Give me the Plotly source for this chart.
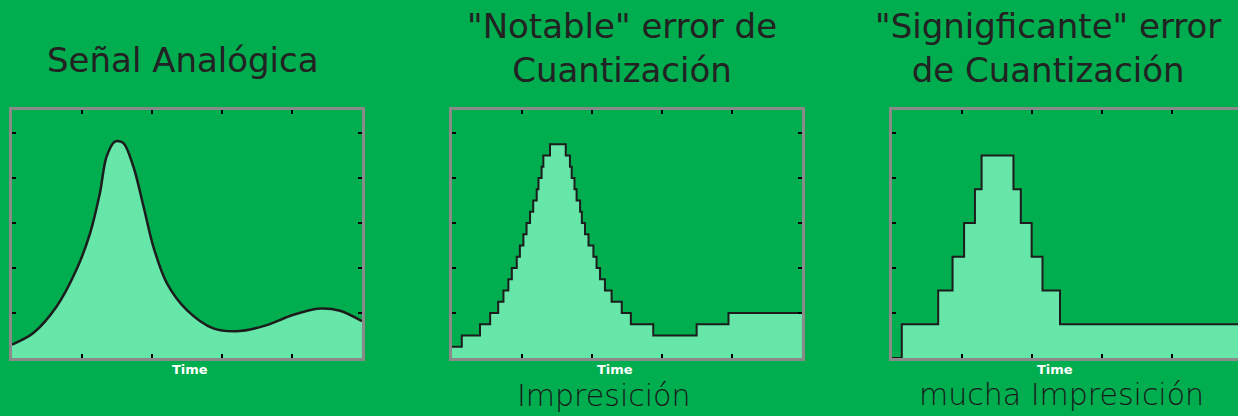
import plotly.graph_objects as go

# ---------------- data ----------------
analog_x = [0, 0.6, 1.27, 1.84, 2.23, 2.51, 2.7, 2.94, 3.18, 3.47, 3.76, 4.04, 4.42, 4.99,
            5.75, 6.51, 7.28, 8.04, 8.8, 9.37, 10]
analog_y = [0.3, 0.55, 1.14, 1.96, 2.77, 3.66, 4.47, 4.81, 4.78, 4.25, 3.36, 2.47, 1.67, 1.07,
            0.66, 0.6, 0.73, 0.96, 1.10, 1.05, 0.82]

fine_edges = [0, 0.28, 0.8, 1.09, 1.32, 1.47, 1.61, 1.71, 1.85, 1.94, 2.04, 2.13, 2.23, 2.32,
              2.42, 2.47, 2.56, 2.61, 2.80, 3.25, 3.37, 3.42, 3.50, 3.56, 3.66, 3.71, 3.80,
              3.90, 4.04, 4.13, 4.23, 4.37, 4.56, 4.85, 5.11, 5.75, 6.99, 7.90, 10]
fine_levels = [0.25, 0.5, 0.75, 1.0, 1.25, 1.5, 1.75, 2.0, 2.25, 2.5, 2.75, 3.0, 3.25, 3.5,
               3.75, 4.0, 4.25, 4.5, 4.75, 4.5, 4.25, 4.0, 3.75, 3.5, 3.25, 3.0, 2.75,
               2.5, 2.25, 2.0, 1.75, 1.5, 1.25, 1.0, 0.75, 0.5, 0.75, 1.0]

coarse_edges = [0, 0.28, 1.32, 1.73, 2.06, 2.37, 2.56, 3.47, 3.68, 3.99, 4.30, 4.80, 10]
coarse_levels = [0, 0.75, 1.5, 2.25, 3.0, 3.75, 4.5, 3.75, 3.0, 2.25, 1.5, 0.75]

titles = ["Señal Analógica", "\"Notable\" error de<br>Cuantización",
          "\"Signigficante\" error<br>de Cuantización"]
captions = ["", "Impresición", "mucha Impresición"]
x_ticks = [2, 4, 6, 8]
y_ticks = [1, 2, 3, 4, 5]

# ---------------- style ----------------
W, H = 1238, 416
BG = "#00AD4F"
FILL = "#66E6A8"
LINE = "#1c1c1c"
FRAME = "#8a8a8a"

fig = go.Figure()


def step_xy(edges, levels):
    return list(edges[:-1]) + [edges[-1]], list(levels) + [levels[-1]]


fig.add_trace(go.Scatter(x=analog_x, y=analog_y, mode="lines", fill="tozeroy",
                         fillcolor=FILL, line=dict(color=LINE, width=2.5, shape="spline",
                                                   smoothing=0.9),
                         xaxis="x", yaxis="y", hoverinfo="skip"))
sx, sy = step_xy(fine_edges, fine_levels)
fig.add_trace(go.Scatter(x=sx, y=sy, mode="lines", fill="tozeroy", fillcolor=FILL,
                         line=dict(color=LINE, width=2, shape="hv"),
                         xaxis="x2", yaxis="y2", hoverinfo="skip"))
cx, cy = step_xy(coarse_edges, coarse_levels)
fig.add_trace(go.Scatter(x=cx, y=cy, mode="lines", fill="tozeroy", fillcolor=FILL,
                         line=dict(color=LINE, width=2, shape="hv"),
                         xaxis="x3", yaxis="y3", hoverinfo="skip"))

panels_px = [(12, 362), (452, 802), (892, 1238)]
x_ranges = [[0, 10], [0, 10], [0, (1238 - 892) / 35]]
y_dom = [(416 - 358) / H, (416 - 110) / H]
y_range = [0, 248 / 45]

layout = dict(width=W, height=H, paper_bgcolor=BG, plot_bgcolor=BG, showlegend=False,
              margin=dict(l=0, r=0, t=0, b=0))
for i, ((a, b), xr) in enumerate(zip(panels_px, x_ranges)):
    sfx = "" if i == 0 else str(i + 1)
    mirror_y = "ticks" if i < 2 else False
    layout["xaxis" + sfx] = dict(domain=[a / W, b / W], range=xr, showgrid=False,
                                 zeroline=False, showline=True, linecolor=FRAME, linewidth=3,
                                 mirror="ticks", ticks="inside", ticklen=4, tickwidth=2,
                                 tickcolor="black", tickvals=x_ticks, showticklabels=False,
                                 anchor="y" + sfx, fixedrange=True)
    layout["yaxis" + sfx] = dict(domain=y_dom, range=y_range, showgrid=False, zeroline=False,
                                 showline=True, linecolor=FRAME, linewidth=3, mirror=mirror_y,
                                 ticks="inside", ticklen=4, tickwidth=2, tickcolor="black",
                                 tickvals=y_ticks, showticklabels=False,
                                 anchor="x" + sfx, fixedrange=True)
fig.update_layout(**layout)

title_font = dict(family="DejaVu Sans", size=34, color="#222222")
title_pos = [(183, 60.2), (622, 48.2), (1048, 48.2)]
for t, (px, py) in zip(titles, title_pos):
    fig.add_annotation(text=t, x=px / W, y=1 - py / H, xref="paper", yref="paper",
                       xanchor="center", yanchor="middle", showarrow=False, font=title_font,
                       align="center")

cap_pos = [None, (603, 395.5), (1061, 394.5)]
for c, pos in zip(captions, cap_pos):
    if not c:
        continue
    fig.add_annotation(text=c, x=pos[0] / W, y=1 - pos[1] / H, xref="paper", yref="paper",
                       xanchor="center", yanchor="middle", showarrow=False,
                       font=dict(family="DejaVu Sans", size=30, color="#1a1a1a", weight=200))

for px in [190, 615, 1055]:
    fig.add_annotation(text="Time", x=px / W, y=1 - 369 / H, xref="paper", yref="paper",
                       xanchor="center", yanchor="middle", showarrow=False,
                       font=dict(family="DejaVu Sans", size=13, color="white", weight="bold"))

fig.write_html("out.html", config={"displayModeBar": False},
               post_script="document.body.style.margin='0';"
                           "document.body.style.padding='0';"
                           "document.body.style.overflow='hidden';"
                           "document.body.style.background='#00AD4F';")
